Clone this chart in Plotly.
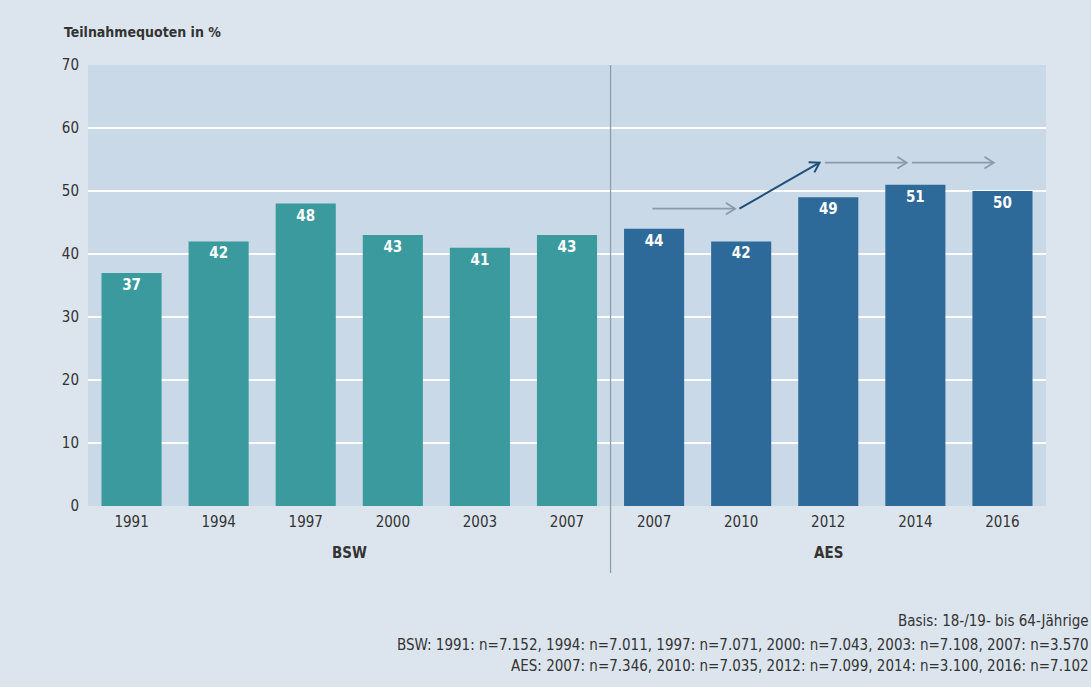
import math
import plotly.graph_objects as go

categories = ["1991", "1994", "1997", "2000", "2003", "2007", "2007", "2010", "2012", "2014", "2016"]
values = [37, 42, 48, 43, 41, 43, 44, 42, 49, 51, 50]
groups = ["BSW"] * 6 + ["AES"] * 5
group_labels = ["BSW", "AES"]
y_ticks = [0, 10, 20, 30, 40, 50, 60, 70]
y_title = "Teilnahmequoten in %"
footer_lines = [
    "Basis: 18-/19- bis 64-Jährige",
    "BSW: 1991: n=7.152, 1994: n=7.011, 1997: n=7.071, 2000: n=7.043, 2003: n=7.108, 2007: n=3.570",
    "AES: 2007: n=7.346, 2010: n=7.035, 2012: n=7.099, 2014: n=3.100, 2016: n=7.102",
]
# trend arrows (start x, start y, end x, end y) in category index / value units
arrows = [
    (5.98, 47.2, 6.93, 47.2, "gray"),
    (6.98, 47.2, 7.9, 54.5, "dark"),
    (7.96, 54.5, 8.9, 54.5, "gray"),
    (8.96, 54.5, 9.9, 54.5, "gray"),
]

FONT = "DejaVu Sans Condensed, Lato, sans-serif"
TEAL = "#3a9a9e"
BLUE = "#2e6a99"
colors = [TEAL if g == "BSW" else BLUE for g in groups]
xs = list(range(len(categories)))

W, H = 1091, 687
ML, MR, MT, MB = 88, 45, 65, 181
XR = [-0.5, 10.5]
YR = [0, 70]
px_x = (W - ML - MR) / (XR[1] - XR[0])
px_y = (H - MT - MB) / (YR[1] - YR[0])

fig = go.Figure()
fig.add_trace(go.Bar(
    x=xs, y=values, marker=dict(color=colors, line=dict(width=0)),
    width=0.69,
    text=[str(v) for v in values], textposition="inside", insidetextanchor="end",
    textfont=dict(color="white", size=15, family="DejaVu Sans Condensed, Lato, sans-serif", weight="bold"),
    cliponaxis=False, showlegend=False, hoverinfo="skip",
))

# arrows drawn as lines with open chevron heads
for (x0, y0, x1, y1, kind) in arrows:
    col = "#1e4f7a" if kind == "dark" else "#8a9cab"
    wid = 2 if kind == "dark" else 1.8
    dxp = (x1 - x0) * px_x
    dyp = (y1 - y0) * px_y
    ang = math.atan2(dyp, dxp)
    L = 11
    hx, hy = [], []
    for s in (1, -1):
        a = ang + math.pi - s * math.radians(32)
        hx.append(x1 + L * math.cos(a) / px_x)
        hy.append(y1 + L * math.sin(a) / px_y)
    fig.add_trace(go.Scatter(x=[x0, x1], y=[y0, y1], mode="lines", line=dict(color=col, width=wid),
                             showlegend=False, hoverinfo="skip"))
    fig.add_trace(go.Scatter(x=[hx[0], x1, hx[1]], y=[hy[0], y1, hy[1]], mode="lines",
                             line=dict(color=col, width=wid), showlegend=False, hoverinfo="skip"))

annotations = []
annotations.append(dict(x=(62 - ML) / (W - ML - MR), y=1.075, xref="paper", yref="paper", xanchor="left", yanchor="middle",
                        text=y_title, showarrow=False, font=dict(size=14, color="#333333", family=FONT, weight="bold")))
annotations.append(dict(x=2.5, y=-0.107, xref="x", yref="paper", yanchor="middle", text="<b>BSW</b>", showarrow=False,
                        font=dict(size=15, color="#333333", family=FONT)))
annotations.append(dict(x=8, y=-0.107, xref="x", yref="paper", yanchor="middle", text="<b>AES</b>", showarrow=False,
                        font=dict(size=15, color="#333333", family=FONT)))
for i, (line, yy) in enumerate(zip(footer_lines, [-0.261, -0.315, -0.363])):
    annotations.append(dict(x=(W - ML) / (W - ML - MR), y=yy, xref="paper", yref="paper", xanchor="right", yanchor="middle",
                            text=line, showarrow=False, font=dict(size=15, color="#333333", family=FONT)))

fig.update_layout(
    width=W, height=H,
    margin=dict(l=ML, r=MR, t=MT, b=MB),
    paper_bgcolor="#dce5ee", plot_bgcolor="#c9d9e7",
    xaxis=dict(tickmode="array", tickvals=xs, ticktext=categories, range=XR,
               showgrid=False, zeroline=False, ticks="", showline=False, ticklabelstandoff=5,
               tickfont=dict(size=15, color="#333333", family=FONT)),
    yaxis=dict(range=YR, tickvals=y_ticks, showgrid=True, gridcolor="white", gridwidth=1.5,
               zeroline=False, ticks="", showline=False, ticklabelstandoff=8,
               tickfont=dict(size=15, color="#333333", family=FONT)),
    annotations=annotations,
    shapes=[dict(type="line", xref="x", yref="paper", x0=5.5, x1=5.5, y0=1, y1=-0.152,
                 line=dict(color="#8d99a4", width=1.2))],
    font=dict(family=FONT),
)
fig.write_html("out.html")
